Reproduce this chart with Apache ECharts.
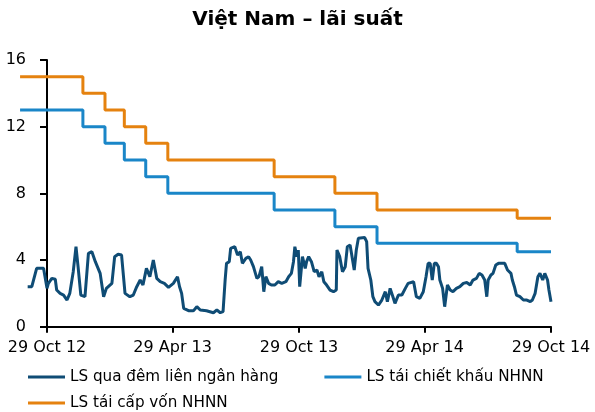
<!DOCTYPE html>
<html>
<head>
<meta charset="utf-8">
<script src="https://cdn.jsdelivr.net/npm/echarts@6/dist/echarts.min.js"></script>
<style>
html,body{margin:0;padding:0;background:#fff;}
#chart{width:595px;height:412px;}
</style>
</head>
<body>
<div id="chart"></div>
<script>
// x values are days since 29 Oct 2012
const tickDays = [0, 182, 365, 547, 730];
const tickLabels = ['29 Oct 12', '29 Apr 13', '29 Oct 13', '29 Apr 14', '29 Oct 14'];

const interbankDays = [-28,-22,-15,-5,0,2,7,12,14,19,24,29,33,38,42,45,49,55,60,65,70,72,77,82,86,94,98,103,108,113,120,125,130,135,139,144,149,154,159,164,170,176,183,189,192,195,198,205,212,217,222,231,241,246,251,255,258,260,264,266,272,276,280,283,288,292,295,299,304,307,311,314,317,321,325,330,335,340,346,350,354,357,359,362,364,366,370,374,376,379,383,387,391,394,398,401,405,410,415,419,420,424,428,432,435,439,441,445,448,451,460,463,465,469,472,475,480,485,490,493,497,501,504,509,514,519,523,531,535,540,545,549,552,555,558,561,564,567,569,573,576,580,584,588,593,598,603,608,613,617,622,626,630,634,637,639,643,646,650,654,659,663,667,672,674,677,680,685,690,695,700,703,707,711,714,718,721,725,727,730];
const interbankRate = [2.4,2.4,3.5,3.5,2.3,2.6,2.9,2.85,2.2,2.0,1.9,1.6,2.0,3.3,4.8,3.6,1.9,1.8,4.4,4.5,3.9,3.8,3.2,1.8,2.3,2.6,4.2,4.35,4.3,2.0,1.8,1.9,2.4,2.8,2.5,3.5,3.0,4.0,2.9,2.7,2.6,2.36,2.6,3.0,2.4,2.0,1.1,0.96,0.95,1.2,1.0,0.96,0.84,1.0,0.84,0.9,2.8,3.8,3.9,4.7,4.8,4.3,4.5,3.8,4.1,4.2,4.0,3.6,2.9,3.0,3.6,2.1,3.0,2.6,2.5,2.5,2.7,2.6,2.7,3.0,3.2,3.9,4.8,4.2,4.6,2.4,4.2,3.5,3.9,4.2,3.9,3.3,3.4,3.0,3.3,2.7,2.5,2.2,2.1,2.2,4.6,4.2,3.3,3.6,4.8,4.9,4.4,3.4,4.6,5.3,5.35,5.1,3.5,2.8,1.8,1.5,1.3,1.6,2.1,1.5,2.3,1.8,1.4,1.9,1.9,2.3,2.6,2.7,1.8,1.7,2.1,3.0,3.8,3.8,2.8,3.8,3.8,3.6,2.8,2.3,1.2,2.5,2.2,2.1,2.3,2.4,2.6,2.65,2.5,2.8,2.9,3.2,3.1,2.8,1.8,2.8,3.1,3.2,3.7,3.8,3.8,3.8,3.4,3.2,2.8,2.4,1.9,1.8,1.6,1.6,1.5,1.6,2.0,3.0,3.2,2.8,3.2,2.8,2.2,1.5];

const policyDays = [-39, 52, 84, 112, 143, 175, 329, 417, 478, 681, 730];
const discountRate = [13, 12, 11, 10, 9, 8, 7, 6, 5, 4.5, 4.5];
const refinancingRate = [15, 14, 13, 12, 11, 10, 9, 8, 7, 6.5, 6.5];

const seriesNames = ['LS qua đêm liên ngân hàng', 'LS tái chiết khấu NHNN', 'LS tái cấp vốn NHNN'];
const colors = ['#0F4C75', '#1A86C8', '#E5820F'];

const zip = (xs, ys) => xs.map((x, i) => [x, ys[i]]);
const FONT = 'DejaVu Sans';

// plot area geometry
const PLOT_LEFT = 47, PLOT_RIGHT = 44, PLOT_TOP = 60, PLOT_BOTTOM = 85.3;
const X_MIN = 0, X_MAX = 730, DATA_X_MIN = -39;
const pxPerDay = (595 - PLOT_LEFT - PLOT_RIGHT) / (X_MAX - X_MIN);
const dataLeft = PLOT_LEFT - (X_MIN - DATA_X_MIN) * pxPerDay;

const legendText = {fontFamily: FONT, fontSize: 15.2, color: '#000', lineHeight: 18};

const chart = echarts.init(document.getElementById('chart'), null, {renderer: 'canvas'});
chart.setOption({
  animation: false,
  backgroundColor: '#fff',
  textStyle: {fontFamily: FONT, color: '#000'},
  title: {
    text: 'Việt Nam – lãi suất',
    left: 'center',
    top: 10,
    padding: 0,
    textStyle: {fontFamily: FONT, fontSize: 20, fontWeight: 'bold', color: '#000'}
  },
  grid: [
    {left: PLOT_LEFT, right: PLOT_RIGHT, top: PLOT_TOP, bottom: PLOT_BOTTOM, containLabel: false},
    {left: dataLeft, right: PLOT_RIGHT, top: PLOT_TOP, bottom: PLOT_BOTTOM, containLabel: false}
  ],
  legend: [
    {
      data: [seriesNames[0], seriesNames[1]],
      left: 28, top: 368, padding: 0, orient: 'horizontal',
      icon: 'rect', itemWidth: 37, itemHeight: 3, itemGap: 46,
      textStyle: legendText
    },
    {
      data: [seriesNames[2]],
      left: 28, top: 394, padding: 0, orient: 'horizontal',
      icon: 'rect', itemWidth: 37, itemHeight: 3,
      textStyle: legendText
    }
  ],
  xAxis: [
    {
      gridIndex: 0, type: 'value',
      min: X_MIN, max: X_MAX,
      axisLine: {show: true, onZero: false, lineStyle: {color: '#000', width: 2}},
      axisTick: {show: true, inside: false, length: 6, customValues: tickDays, lineStyle: {color: '#000', width: 2}},
      axisLabel: {
        show: true, margin: 13, fontFamily: FONT, fontSize: 16, color: '#000',
        customValues: tickDays,
        formatter: v => tickLabels[tickDays.indexOf(v)] || ''
      },
      splitLine: {show: false}
    },
    {
      gridIndex: 1, type: 'value', show: false,
      min: DATA_X_MIN, max: X_MAX,
      splitLine: {show: false}
    }
  ],
  yAxis: [
    {
      gridIndex: 0, type: 'value',
      min: 0, max: 16, interval: 4,
      axisLine: {show: true, onZero: false, lineStyle: {color: '#000', width: 2}},
      axisTick: {show: true, inside: false, length: 7, lineStyle: {color: '#000', width: 2}},
      axisLabel: {margin: 21, fontFamily: FONT, fontSize: 16, color: '#000'},
      splitLine: {show: false}
    },
    {
      gridIndex: 1, type: 'value', show: false,
      min: 0, max: 16, interval: 4,
      splitLine: {show: false}
    }
  ],
  series: [
    {
      name: seriesNames[0], type: 'line', xAxisIndex: 1, yAxisIndex: 1, showSymbol: false, symbol: 'none',
      data: zip(interbankDays, interbankRate),
      lineStyle: {color: colors[0], width: 3}, itemStyle: {color: colors[0]}, z: 4
    },
    {
      name: seriesNames[1], type: 'line', xAxisIndex: 1, yAxisIndex: 1, showSymbol: false, symbol: 'none', step: 'end',
      data: zip(policyDays, discountRate),
      lineStyle: {color: colors[1], width: 3}, itemStyle: {color: colors[1]}, z: 3
    },
    {
      name: seriesNames[2], type: 'line', xAxisIndex: 1, yAxisIndex: 1, showSymbol: false, symbol: 'none', step: 'end',
      data: zip(policyDays, refinancingRate),
      lineStyle: {color: colors[2], width: 3}, itemStyle: {color: colors[2]}, z: 3
    }
  ]
});
</script>
</body>
</html>
